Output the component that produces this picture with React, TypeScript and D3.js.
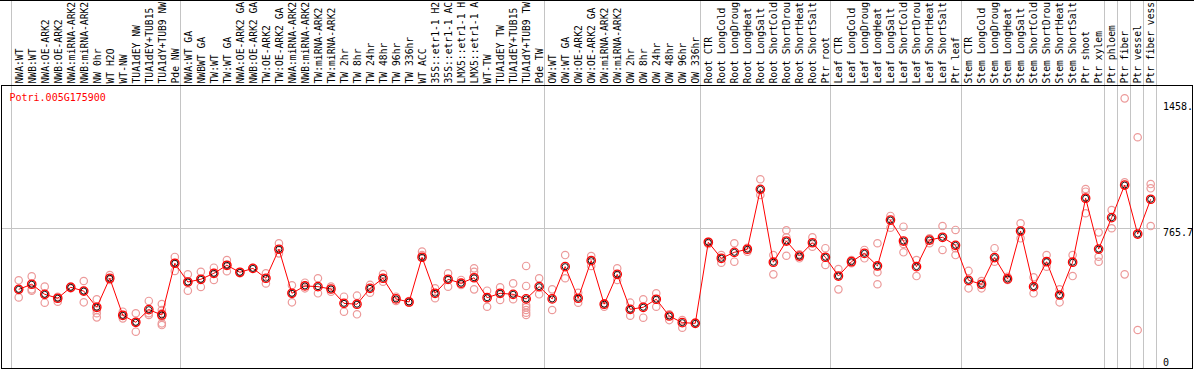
import React from "react";
import * as d3 from "d3";

const title = "Potri.005G175900";

const categories: string[] = [
  "NWA:WT", "NWB:WT", "NWA:OE-ARK2", "NWB:OE-ARK2", "NWA:miRNA-ARK2", "NWB:miRNA-ARK2",
  "NW 0hr", "WT H2O", "WT-NW", "TUA1dEY NW", "TUA1dEY+TUB15", "TUA1dY+TUB9 NW", "Pde NW",
  "NWA:WT GA", "NWBWT GA", "TW:WT", "TW:WT GA", "NWA:OE-ARK2 GA", "NWB:OE-ARK2 GA",
  "TW:OE-ARK2", "TW:OE-ARK2 GA", "NWA:miRNA-ARK2", "NWB:miRNA-ARK2", "TW:miRNA-ARK2",
  "TW:miRNA-ARK2", "TW 2hr", "TW 8hr", "TW 24hr", "TW 48hr", "TW 96hr", "TW 336hr",
  "WT ACC", "35S::etr1-1 H2", "35S::etr1-1 AC", "LMX5::etr1-1 H", "LMX5::etr1-1 A",
  "WT-TW", "TUA1dEY TW", "TUA1dEY+TUB15", "TUA1dY+TUB9 TW", "Pde TW",
  "OW:WT", "OW:WT GA", "OW:OE-ARK2", "OW:OE-ARK2 GA", "OW:miRNA-ARK2", "OW:miRNA-ARK2",
  "OW 2hr", "OW 8hr", "OW 24hr", "OW 48hr", "OW 96hr", "OW 336hr",
  "Root CTR", "Root LongCold", "Root LongDroug", "Root LongHeat", "Root LongSalt",
  "Root ShortCold", "Root ShortDrou", "Root ShortHeat", "Root ShortSalt", "Ptr root",
  "Leaf CTR", "Leaf LongCold", "Leaf LongDroug", "Leaf LongHeat", "Leaf LongSalt",
  "Leaf ShortCold", "Leaf ShortDrou", "Leaf ShortHeat", "Leaf ShortSalt", "Ptr leaf",
  "Stem CTR", "Stem LongCold", "Stem LongDroug", "Stem LongHeat", "Stem LongSalt",
  "Stem ShortCold", "Stem ShortDrou", "Stem ShortHeat", "Stem ShortSalt", "Ptr shoot",
  "Ptr xylem", "Ptr phloem", "Ptr fiber", "Ptr vessel", "Ptr fiber vess",
];

const means: number[] = [
  408, 438, 379, 356, 420, 398, 303, 473, 256, 215, 289, 258, 561,
  451, 467, 502, 549, 508, 531, 473, 643, 385, 428, 424, 410, 326, 321, 414, 473, 352, 334,
  596, 385, 467, 444, 476, 359, 385, 379, 352, 424,
  352, 541, 356, 576, 321, 496, 291, 303, 350, 252, 213, 209,
  684, 590, 625, 643, 994, 567, 691, 603, 681, 596,
  486, 570, 619, 545, 814, 691, 541, 697, 713, 666,
  461, 438, 594, 469, 750, 424, 570, 375, 567, 942,
  644, 828, 1019, 732, 936,
];

const replicates: number[][] = [
  [461, 410, 361], [484, 408, 400], [424, 330, 381], [365, 336, 357], [424, 414], [457, 332, 398],
  [350, 268, 244, 287], [492, 467, 463], [277, 238, 258], [268, 160, 217], [340, 268, 258],
  [322, 287, 268, 248, 209, 199], [598, 516, 562],
  [496, 400, 451], [511, 422, 469], [535, 463, 504], [580, 514, 551], [510, 502], [533],
  [502, 443], [678, 619], [432, 332, 387], [447, 414], [473, 385], [424, 394], [365, 277],
  [371, 262], [434, 388], [498, 453], [365, 340], [340, 330],
  [629, 609], [414, 356], [502, 424], [463, 434], [531, 511, 408], [400, 306], [420, 346],
  [443, 350], [545, 428, 316, 303, 287, 271, 258], [473, 379],
  [408, 287], [609, 473], [388, 330], [603, 545], [326, 306], [531, 463], [330, 254],
  [350, 242], [385, 306], [262, 228], [228, 183], [213],
  [687, 674], [609, 564], [678, 570], [652, 629], [1053, 961], [609, 496], [754, 713, 605],
  [613, 590], [713, 658], [649, 551],
  [527, 408], [580, 561], [639, 590], [678, 508, 438], [838, 769], [775, 674, 625],
  [580, 486], [707, 678], [779, 639], [756, 649, 609],
  [516, 414], [457, 414], [649, 570], [482, 463], [795, 707], [479, 385], [609, 541],
  [408, 332], [609, 486], [996, 980, 854],
  [742, 599, 570], [873, 766], [1527, 1035, 496], [1299, 170], [1025, 1000, 779],
];

const yMax = 1531.4;
const gridValue = 765.7;
const topLabel = "1458.";
const midLabel = "765.7";
const zeroLabel = "0";
const separatorIdx: number[] = [0, 13, 41, 53, 63, 73, 84, 85, 86, 87, 88];

const FONT = "'DejaVu Sans Mono', monospace";

export default function App() {
  const W = 1194;
  const H = 370;
  const idx = categories.map((_, i) => i);
  const x = d3.scaleBand<number>().domain(idx).range([10.7, 1155.7]).padding(0);
  const step = x.step();
  const px = (i: number) => (x(i) as number) + 8;
  const y = d3.scaleLinear().domain([0, yMax]).range([359, 97.6]);
  const line = d3
    .line<number>()
    .x((_, i) => px(i))
    .y((d) => y(d));
  const sepX = (k: number) => 10.7 + k * step;

  return (
    <svg
      width={W}
      height={H}
      style={{ position: "absolute", left: 0, top: 0, background: "#fff" }}
      fontFamily={FONT}
    >
      <rect x={0} y={0} width={W} height={H} fill="#fff" />
      {separatorIdx.map((k) => (
        <line
          key={"s" + k}
          x1={Math.round(sepX(k)) + 0.5}
          x2={Math.round(sepX(k)) + 0.5}
          y1={0}
          y2={369}
          stroke="#c4c4c4"
          strokeWidth={1}
        />
      ))}
      <line
        x1={2}
        x2={1160}
        y1={Math.round(y(gridValue)) + 0.5}
        y2={Math.round(y(gridValue)) + 0.5}
        stroke="#c4c4c4"
        strokeWidth={1}
      />
      <line x1={0} x2={W} y1={0.5} y2={0.5} stroke="#000" />
      <rect x={1.5} y={85.5} width={1191} height={283} fill="none" stroke="#000" strokeWidth={1} />
      {categories.map((c, i) => (
        <text
          key={"c" + i}
          transform={`translate(${(x(i) as number) + 11.8},83.5) rotate(-90)`}
          fontSize={9.7}
          fill="#000"
        >
          {c}
        </text>
      ))}
      <text x={9.5} y={100.5} fontSize={10} fill="#ff0000">
        {title}
      </text>
      <text x={1163} y={y(1458)} fontSize={10} fill="#000">
        {topLabel}
      </text>
      <text x={1163} y={y(gridValue) + 7.7} fontSize={10} fill="#000">
        {midLabel}
      </text>
      <text x={1163} y={y(0) + 6.7} fontSize={10} fill="#000">
        {zeroLabel}
      </text>
      {replicates.map((reps, i) =>
        reps.map((v, j) => (
          <circle
            key={`r${i}-${j}`}
            cx={px(i)}
            cy={y(v)}
            r={3.7}
            fill="none"
            stroke="#ec9a9a"
            strokeWidth={1.2}
          />
        ))
      )}
      <path d={line(means) as string} fill="none" stroke="#ff0000" strokeWidth={1} />
      {means.map((v, i) => (
        <g key={"m" + i}>
          <circle cx={px(i)} cy={y(v)} r={4.2} fill="none" stroke="#ff0000" strokeWidth={1.3} />
          <circle cx={px(i)} cy={y(v)} r={3} fill="none" stroke="#000" strokeWidth={0.9} />
        </g>
      ))}
    </svg>
  );
}
